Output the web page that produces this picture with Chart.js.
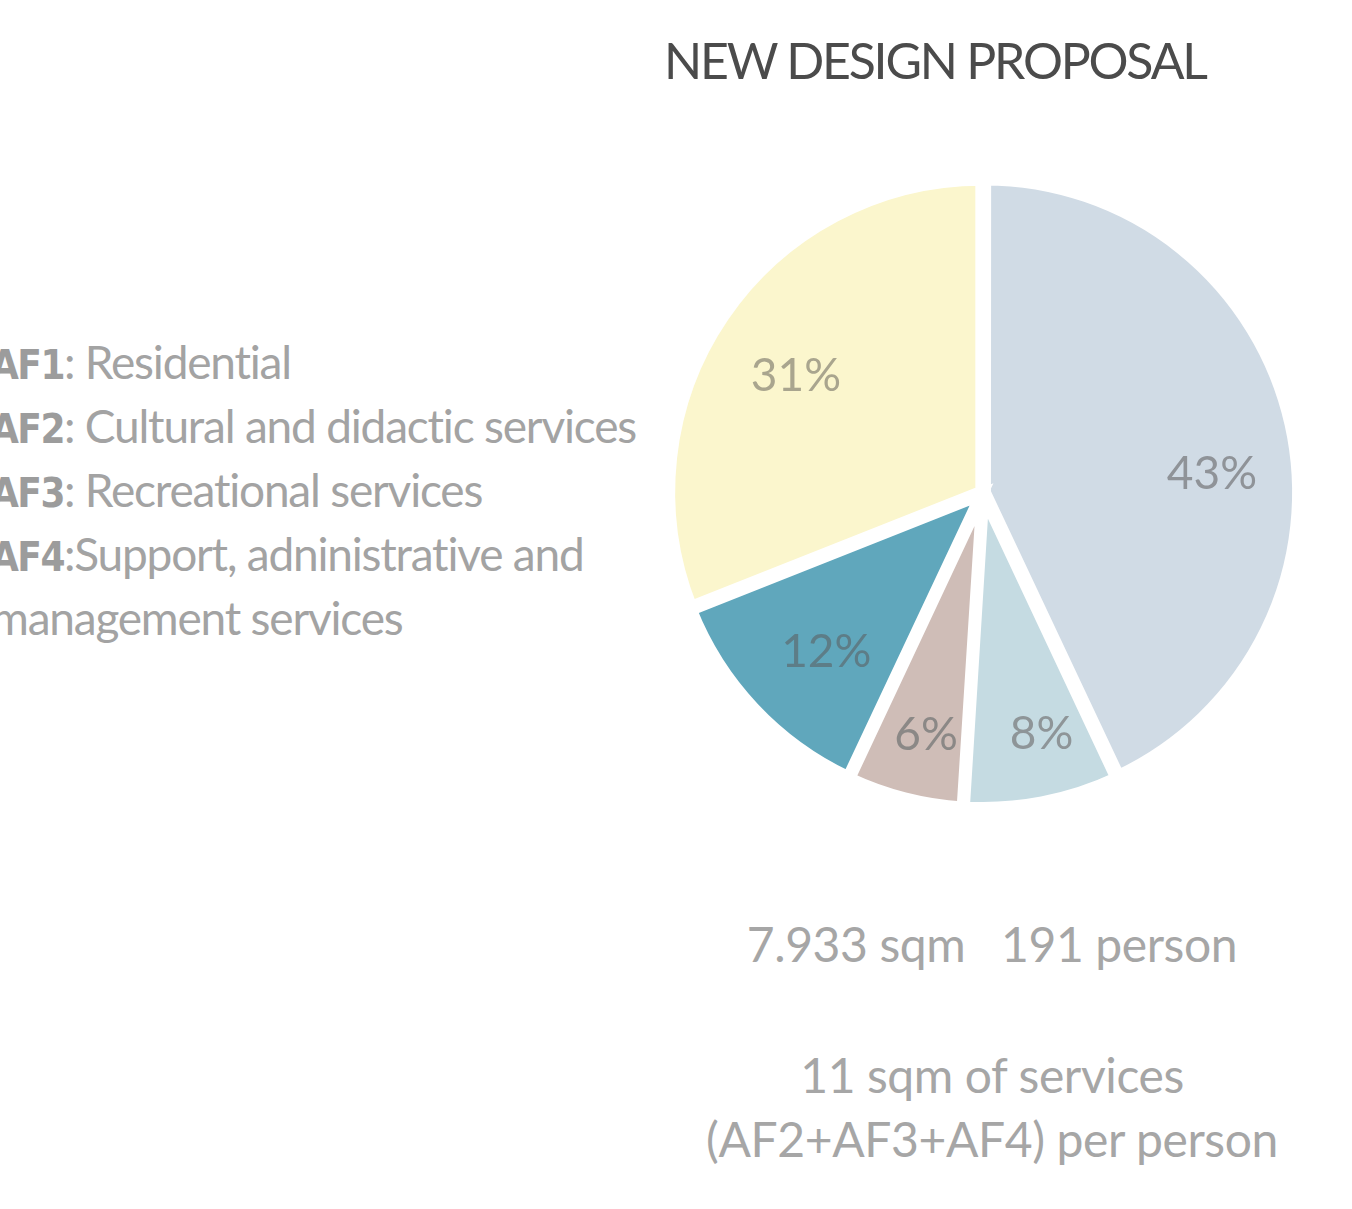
<!DOCTYPE html>
<html>
<head>
<meta charset="utf-8">
<script src="https://cdn.jsdelivr.net/npm/chart.js@4.4.1/dist/chart.umd.min.js"></script>
<style>
  html, body { margin: 0; padding: 0; background: #fff; }
  body { width: 1352px; height: 1209px; position: relative; overflow: hidden; font-family: Lato, "Noto Sans", sans-serif; }
  .title { position: absolute; left: 664px; top: 30px; font-size: 50px; color: #4b4b4b; letter-spacing: -2.2px; white-space: nowrap; }
  .legend { position: absolute; left: -9px; top: 330px; font-size: 46px; color: #a3a3a3; white-space: nowrap; letter-spacing: -1.2px; }
  .legend div { height: 64px; line-height: 64px; overflow: visible; }
  .legend b { font-family: "DejaVu Sans Condensed", "DejaVu Sans", sans-serif; font-stretch: condensed; font-weight: 700; color: #9c9c9c; letter-spacing: -1.5px; font-size: 40px; line-height: 0; }
  .info { position: absolute; left: 692px; width: 600px; text-align: center; font-size: 48px; color: #a6a6a6; white-space: nowrap; letter-spacing: -0.4px; }
  #wrap { position: absolute; left: 653px; top: 163px; width: 660px; height: 660px; }
</style>
</head>
<body>
<div class="title">NEW DESIGN PROPOSAL</div>
<div class="legend">
  <div><b>AF1</b>: Residential</div>
  <div><b>AF2</b>: Cultural and didactic services</div>
  <div><b>AF3</b>: Recreational services</div>
  <div><b>AF4</b>:Support, adninistrative and</div>
  <div>management services</div>
</div>
<div class="info" style="top: 915px;">7.933 sqm &nbsp; 191 person</div>
<div class="info" style="top: 1043px; line-height: 64px;">11 sqm of services<br>(AF2+AF3+AF4) per person</div>
<div id="wrap"><canvas id="pieChart"></canvas></div>
<script>
// shares of the new design proposal, clockwise from 12 o'clock
var sliceNames = ["AF1", "AF3", "AF4", "AF2", "AF1 (rest)"];
var sliceValues = [43, 8, 6, 12, 31];
var sliceColors = ["#D0DBE5", "#C5DBE2", "#CFBDB7", "#60A7BC", "#FBF6CD"];
var labelColors = ["#8f9398", "#8e9598", "#8b8886", "#5d7d87", "#a9a58e"];

// small angle nudges (radians) so the % labels sit where the original has them
var labelNudge = [0.14, -0.05, -0.02, -0.04, -0.04];
var labelDepth = [0.73, 0.79, 0.79, 0.71, 0.70];

var percentLabels = {
     id: 'percentLabels',
     afterDatasetsDraw: function (chart) {
          var ctx = chart.ctx;
          var meta = chart.getDatasetMeta(0);
          ctx.save();
          ctx.font = '46px Lato, "Noto Sans", sans-serif';
          ctx.textAlign = 'center';
          ctx.textBaseline = 'middle';
          meta.data.forEach(function (arc, i) {
               var p = arc.getProps(['x', 'y', 'startAngle', 'endAngle', 'outerRadius', 'options'], true);
               var mid = (p.startAngle + p.endAngle) / 2;
               var off = (p.options.offset || 0) / 4; // chart.js draws arcs shifted by offset/4
               var a = mid + labelNudge[i];
               var d = p.outerRadius * labelDepth[i];
               var x = p.x + Math.cos(mid) * off + Math.cos(a) * d;
               var y = p.y + Math.sin(mid) * off + Math.sin(a) * d;
               ctx.fillStyle = labelColors[i];
               ctx.fillText(sliceValues[i] + '%', x, y);
          });
          ctx.restore();
     }
};

function createPieChart() {
     var pieCtx = document.getElementById('pieChart').getContext('2d');
     window.proposalPieChart = new Chart(pieCtx, {
          type: 'pie',
          data: {
               labels: sliceNames,
               datasets: [{
                    data: sliceValues,
                    backgroundColor: sliceColors,
                    borderColor: '#ffffff',
                    borderWidth: 12,
                    borderJoinStyle: 'miter',
                    offset: 8,
                    hoverOffset: 0,
                    radius: 312
               }]
          },
          options: {
               responsive: true,
               maintainAspectRatio: false,
               animation: false,
               layout: { padding: 0 },
               plugins: {
                    legend: { display: false },
                    tooltip: { enabled: false }
               }
          },
          plugins: [percentLabels]
     });
}
document.addEventListener('DOMContentLoaded', function () {
     createPieChart();
});
</script>
</body>
</html>
